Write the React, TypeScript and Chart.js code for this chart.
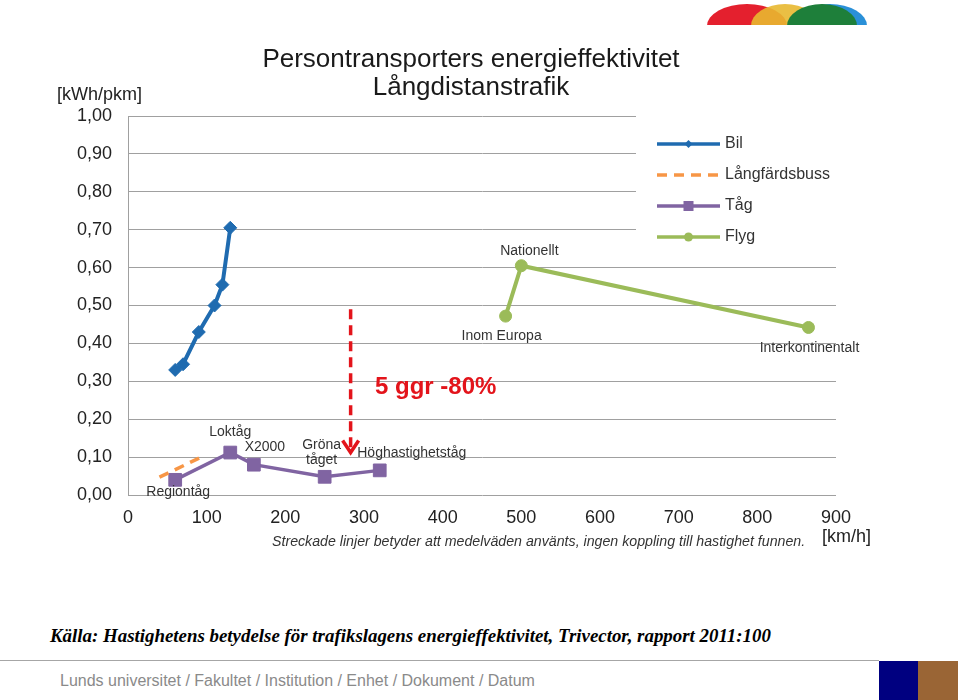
import React, { useEffect, useRef } from "react";
import { Chart, registerables } from "chart.js";

Chart.register(...registerables);

// ---------- data ----------
const seriesNames = ["Bil", "Långfärdsbuss", "Tåg", "Flyg"];

const bilSpeed = [60, 70, 90, 110, 120, 130];
const bilEnergy = [0.33, 0.345, 0.43, 0.5, 0.555, 0.705];

const bussSpeed = [40, 93];
const bussEnergy = [0.047, 0.1];

const tagSpeed = [60, 130, 160, 250, 320];
const tagEnergy = [0.04, 0.112, 0.08, 0.048, 0.065];
const tagLabels = ["Regiontåg", "Loktåg", "X2000", "Gröna\ntåget", "Höghastighetståg"];

const flygSpeed = [480, 500, 865];
const flygEnergy = [0.472, 0.605, 0.442];
const flygLabels = ["Inom Europa", "Nationellt", "Interkontinentalt"];

const xTickValues = [0, 100, 200, 300, 400, 500, 600, 700, 800, 900];
const yTickValues = [0, 0.1, 0.2, 0.3, 0.4, 0.5, 0.6, 0.7, 0.8, 0.9, 1.0];

const arrowSpeed = 283;
const arrowFrom = 0.49;
const arrowTo = 0.112;
const noteSpeed = 314;
const noteEnergy = 0.285;
const noteText = "5 ggr -80%";

const titleLines = ["Persontransporters energieffektivitet", "Långdistanstrafik"];
const yUnit = "[kWh/pkm]";
const xUnit = "[km/h]";
const footnote = "Streckade linjer betyder att medelväden använts, ingen koppling till hastighet funnen.";
const source = "Källa: Hastighetens betydelse för trafikslagens energieffektivitet, Trivector, rapport 2011:100";
const footer = "Lunds universitet / Fakultet / Institution / Enhet / Dokument / Datum";

// ---------- styles ----------
const BLUE = "#1F6BB0";
const ORANGE = "#F79646";
const PURPLE = "#8064A2";
const GREEN = "#9BBB59";
const RED = "#E3141B";
const FONT = "Arial, 'Liberation Sans', Helvetica, sans-serif";

const toPts = (xs: number[], ys: number[]) => xs.map((x, i) => ({ x, y: ys[i] }));

// label offsets (pixels) relative to their points
const tagLabelOffsets = [
  [3, 12],
  [0, -20],
  [11, -18],
  [-3, -32],
  [32, -17],
];
const flygLabelOffsets = [
  [-4, 20],
  [8, -15],
  [1, 21],
];

const overlayPlugin = {
  id: "overlay",
  afterDatasetsDraw(chart: any) {
    const ctx = chart.ctx;
    const xs = chart.scales.x;
    const ys = chart.scales.y;
    ctx.save();
    // point labels
    ctx.fillStyle = "#333";
    ctx.font = `14px ${FONT}`;
    ctx.textAlign = "center";
    ctx.textBaseline = "middle";
    const drawLabels = (sp: number[], en: number[], labels: string[], offs: number[][]) => {
      labels.forEach((lab, i) => {
        const px = xs.getPixelForValue(sp[i]) + offs[i][0];
        const py = ys.getPixelForValue(en[i]) + offs[i][1];
        lab.split("\n").forEach((line, j) => ctx.fillText(line, px, py + j * 15));
      });
    };
    drawLabels(tagSpeed, tagEnergy, tagLabels, tagLabelOffsets);
    drawLabels(flygSpeed, flygEnergy, flygLabels, flygLabelOffsets);

    // red dashed arrow
    const ax = xs.getPixelForValue(arrowSpeed);
    const ay1 = ys.getPixelForValue(arrowFrom);
    const ay2 = ys.getPixelForValue(arrowTo);
    ctx.strokeStyle = RED;
    ctx.lineWidth = 3.5;
    ctx.setLineDash([10, 6]);
    ctx.beginPath();
    ctx.moveTo(ax, ay1);
    ctx.lineTo(ax, ay2 - 3);
    ctx.stroke();
    ctx.setLineDash([]);
    ctx.beginPath();
    ctx.moveTo(ax - 8, ay2 - 12);
    ctx.lineTo(ax, ay2);
    ctx.lineTo(ax + 8, ay2 - 12);
    ctx.stroke();

    ctx.fillStyle = RED;
    ctx.font = `bold 24px ${FONT}`;
    ctx.textAlign = "left";
    ctx.fillText(noteText, xs.getPixelForValue(noteSpeed), ys.getPixelForValue(noteEnergy));
    ctx.restore();
  },
  afterDraw(chart: any) {
    // legend
    const ctx = chart.ctx;
    const area = chart.chartArea;
    const left = area.right - 200;
    const top = area.top - 4;
    ctx.save();
    ctx.fillStyle = "#fff";
    ctx.fillRect(left, top, 205, 138);
    const colors = [BLUE, ORANGE, PURPLE, GREEN];
    seriesNames.forEach((name, i) => {
      const y = top + 32 + i * 31;
      const x1 = left + 21;
      const x2 = left + 84;
      ctx.strokeStyle = colors[i];
      ctx.lineWidth = 3.5;
      if (i === 1) ctx.setLineDash([10, 7]);
      ctx.beginPath();
      ctx.moveTo(x1, y);
      ctx.lineTo(x2, y);
      ctx.stroke();
      ctx.setLineDash([]);
      const cx = (x1 + x2) / 2;
      ctx.fillStyle = colors[i];
      if (i === 0) {
        ctx.beginPath();
        ctx.moveTo(cx, y - 4);
        ctx.lineTo(cx + 4, y);
        ctx.lineTo(cx, y + 4);
        ctx.lineTo(cx - 4, y);
        ctx.closePath();
        ctx.fill();
      } else if (i === 2) {
        ctx.fillRect(cx - 5, y - 5, 10, 10);
      } else if (i === 3) {
        ctx.beginPath();
        ctx.arc(cx, y, 4.5, 0, Math.PI * 2);
        ctx.fill();
      }
      ctx.fillStyle = "#333";
      ctx.font = `16px ${FONT}`;
      ctx.textAlign = "left";
      ctx.textBaseline = "middle";
      ctx.fillText(name, x2 + 5, y);
    });
    ctx.restore();
  },
};

function ChartCanvas() {
  const ref = useRef<HTMLCanvasElement | null>(null);
  useEffect(() => {
    if (!ref.current) return;
    const chart = new Chart(ref.current, {
      type: "scatter",
      data: {
        datasets: [
          {
            label: seriesNames[0],
            data: toPts(bilSpeed, bilEnergy),
            showLine: true,
            borderColor: BLUE,
            backgroundColor: BLUE,
            borderWidth: 4,
            pointStyle: "rectRot",
            pointRadius: 6.5,
            pointBorderWidth: 1,
          },
          {
            label: seriesNames[1],
            data: toPts(bussSpeed, bussEnergy),
            showLine: true,
            borderColor: ORANGE,
            backgroundColor: ORANGE,
            borderWidth: 3.5,
            borderDash: [10, 7],
            pointRadius: 0,
          },
          {
            label: seriesNames[2],
            data: toPts(tagSpeed, tagEnergy),
            showLine: true,
            borderColor: PURPLE,
            backgroundColor: PURPLE,
            borderWidth: 3.5,
            pointStyle: "rect",
            pointRadius: 9,
            pointBorderWidth: 1,
          },
          {
            label: seriesNames[3],
            data: toPts(flygSpeed, flygEnergy),
            showLine: true,
            borderColor: GREEN,
            backgroundColor: GREEN,
            borderWidth: 4,
            pointStyle: "circle",
            pointRadius: 6,
            pointBorderWidth: 1,
          },
        ],
      },
      options: {
        animation: false,
        responsive: false,
        devicePixelRatio: 1,
        layout: { padding: { top: 116, right: 124, left: 0, bottom: 0 } },
        plugins: {
          legend: { display: false },
          tooltip: { enabled: false },
          title: { display: false },
        },
        scales: {
          x: {
            type: "linear",
            min: 0,
            max: 900,
            afterBuildTicks: (s: any) => {
              s.ticks = xTickValues.map((v) => ({ value: v }));
            },
            ticks: {
              font: { family: FONT, size: 18 },
              color: "#222",
              padding: 12,
              maxRotation: 0,
            },
            grid: { display: false, drawTicks: false },
            border: { display: false },
            afterFit: (s: any) => {
              s.height = 65;
            },
          },
          y: {
            min: 0,
            max: 1,
            afterBuildTicks: (s: any) => {
              s.ticks = yTickValues.map((v) => ({ value: v }));
            },
            ticks: {
              font: { family: FONT, size: 18 },
              color: "#222",
              padding: 16,
              callback: (v: any) => Number(v).toFixed(2).replace(".", ","),
            },
            grid: { color: "#a0a0a0", lineWidth: 1, drawTicks: false },
            border: { display: true, color: "#a0a0a0" },
            afterFit: (s: any) => {
              s.width = 128;
            },
          },
        },
      } as any,
      plugins: [overlayPlugin],
    });
    return () => chart.destroy();
  }, []);
  return (
    <canvas
      ref={ref}
      width={960}
      height={560}
      style={{ position: "absolute", left: 0, top: 0, width: 960, height: 560 }}
    />
  );
}

const abs = (extra: React.CSSProperties): React.CSSProperties => ({
  position: "absolute",
  whiteSpace: "nowrap",
  lineHeight: 1,
  margin: 0,
  ...extra,
});

export default function App() {
  return (
    <div
      style={{
        position: "absolute",
        left: 0,
        top: 0,
        width: 960,
        height: 700,
        background: "#fff",
        overflow: "hidden",
        fontFamily: FONT,
      }}
    >
      <ChartCanvas />
      {/* logo */}
      <svg
        width={180}
        height={30}
        style={{ position: "absolute", left: 700, top: 0 }}
        viewBox="0 0 180 30"
      >
        <g style={{ mixBlendMode: "multiply" } as any}>
          <ellipse cx={47} cy={26} rx={40} ry={22} fill="#E4202E" />
          <ellipse cx={85} cy={26} rx={34} ry={22} fill="#E8B830" opacity={0.9} />
          <ellipse cx={130} cy={26} rx={37} ry={22} fill="#2A90D8" />
          <ellipse cx={122} cy={26} rx={35} ry={22} fill="#1E7F3A" />
        </g>
        <rect x={0} y={25} width={180} height={5} fill="#fff" />
      </svg>
      <div style={abs({ left: 0, width: 942, top: 45, fontSize: 26, color: "#1a1a1a", textAlign: "center" })}>
        {titleLines[0]}
      </div>
      <div style={abs({ left: 0, width: 942, top: 73, fontSize: 26, color: "#1a1a1a", textAlign: "center" })}>
        {titleLines[1]}
      </div>
      <div style={abs({ left: 57, top: 85, fontSize: 18, color: "#222" })}>{yUnit}</div>
      <div style={abs({ left: 822, top: 527, fontSize: 18, color: "#222" })}>{xUnit}</div>
      <div style={abs({ left: 272, top: 534, fontSize: 14.2, color: "#333", fontStyle: "italic" })}>
        {footnote}
      </div>
      <div
        style={abs({
          left: 50,
          top: 627,
          fontSize: 18.9,
          color: "#000",
          fontStyle: "italic",
          fontWeight: "bold",
          fontFamily: "'Liberation Serif', 'Times New Roman', serif",
        })}
      >
        {source}
      </div>
      <div style={{ position: "absolute", left: 0, top: 660, width: 879, height: 1, background: "#a6a6a6" }} />
      <div style={abs({ left: 60, top: 673, fontSize: 16, color: "#8a8a8a" })}>{footer}</div>
      <div style={{ position: "absolute", left: 879, top: 661, width: 39, height: 39, background: "#000080" }} />
      <div style={{ position: "absolute", left: 918, top: 661, width: 40, height: 39, background: "#9A6535" }} />
    </div>
  );
}
